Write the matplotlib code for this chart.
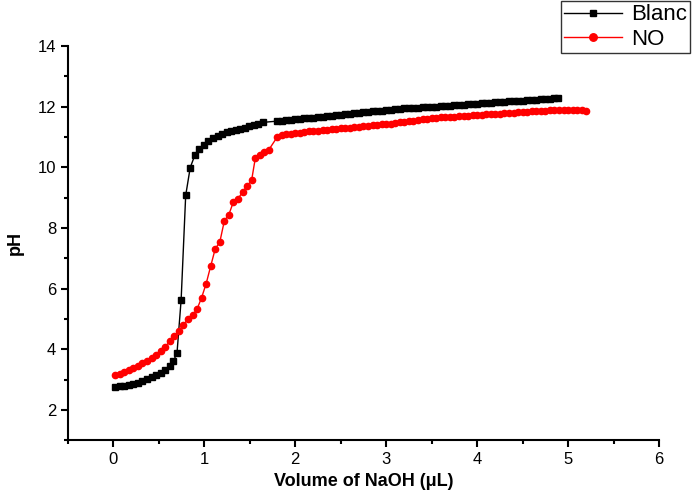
import matplotlib
matplotlib.use("Agg")
import matplotlib.pyplot as plt
from matplotlib.ticker import MultipleLocator

plt.rcParams['font.family'] = ['Liberation Sans', 'DejaVu Sans']

# Blanc (negro, cuadrados)
vol_blanc = [0.02, 0.07, 0.12, 0.17, 0.22, 0.27, 0.32, 0.37, 0.42, 0.47,
             0.52, 0.57, 0.62, 0.66, 0.70, 0.745, 0.795, 0.845, 0.895, 0.945,
             0.995, 1.045, 1.095, 1.145, 1.195, 1.245, 1.295, 1.345, 1.395, 1.445,
             1.495, 1.545, 1.595, 1.645,
             1.80, 1.85, 1.90, 1.95, 2.00, 2.05, 2.10, 2.15, 2.20, 2.25,
             2.30, 2.35, 2.40, 2.45, 2.50, 2.55, 2.60, 2.65, 2.70, 2.75,
             2.80, 2.85, 2.90, 2.95, 3.00, 3.05, 3.10, 3.15, 3.20, 3.25,
             3.30, 3.35, 3.40, 3.45, 3.50, 3.55, 3.60, 3.65, 3.70, 3.75,
             3.80, 3.85, 3.90, 3.95, 4.00, 4.05, 4.10, 4.15, 4.20, 4.25,
             4.30, 4.35, 4.40, 4.45, 4.50, 4.55, 4.60, 4.65, 4.70, 4.75,
             4.80, 4.85, 4.89]
ph_blanc = [2.76, 2.77, 2.79, 2.82, 2.86, 2.90, 2.95, 3.01, 3.07, 3.14,
            3.22, 3.32, 3.46, 3.60, 3.89, 5.63, 9.07, 9.99, 10.39, 10.60,
            10.74, 10.86, 10.96, 11.03, 11.09, 11.15, 11.20, 11.23, 11.26, 11.30,
            11.35, 11.40, 11.44, 11.48,
            11.52, 11.53, 11.55, 11.56, 11.58, 11.60, 11.61, 11.63, 11.64, 11.66,
            11.67, 11.69, 11.70, 11.72, 11.73, 11.75, 11.76, 11.78, 11.79, 11.81,
            11.82, 11.84, 11.85, 11.87, 11.88, 11.90, 11.91, 11.93, 11.94, 11.95,
            11.95, 11.96, 11.97, 11.98, 11.99, 12.00, 12.01, 12.02, 12.03, 12.04,
            12.05, 12.06, 12.07, 12.08, 12.10, 12.11, 12.12, 12.13, 12.14, 12.15,
            12.16, 12.17, 12.18, 12.19, 12.20, 12.21, 12.22, 12.23, 12.24, 12.25,
            12.26, 12.27, 12.27]

# NO (rojo, circulos)
vol_no = [0.02, 0.07, 0.12, 0.17, 0.22, 0.27, 0.32, 0.37, 0.42, 0.47,
          0.52, 0.57, 0.62, 0.67, 0.72, 0.77, 0.82, 0.87, 0.92, 0.97,
          1.02, 1.07, 1.12, 1.17, 1.22, 1.27, 1.32, 1.37, 1.42, 1.47,
          1.52, 1.56, 1.61, 1.66, 1.71,
          1.80, 1.85, 1.90, 1.95, 2.00, 2.05, 2.10, 2.15, 2.20, 2.25,
          2.30, 2.35, 2.40, 2.45, 2.50, 2.55, 2.60, 2.65, 2.70, 2.75,
          2.80, 2.85, 2.90, 2.95, 3.00, 3.05, 3.10, 3.15, 3.20, 3.25,
          3.30, 3.35, 3.40, 3.45, 3.50, 3.55, 3.60, 3.65, 3.70, 3.75,
          3.80, 3.85, 3.90, 3.95, 4.00, 4.05, 4.10, 4.15, 4.20, 4.25,
          4.30, 4.35, 4.40, 4.45, 4.50, 4.55, 4.60, 4.65, 4.70, 4.75,
          4.80, 4.85, 4.90, 4.95, 5.00, 5.05, 5.10, 5.15, 5.20]
ph_no = [3.15, 3.19, 3.24, 3.30, 3.37, 3.45, 3.53, 3.62, 3.71, 3.81,
         3.93, 4.08, 4.26, 4.42, 4.60, 4.80, 5.00, 5.12, 5.32, 5.70,
         6.16, 6.74, 7.31, 7.53, 8.23, 8.44, 8.86, 8.96, 9.18, 9.38,
         9.57, 10.29, 10.39, 10.49, 10.58,
         10.99, 11.05, 11.08, 11.10, 11.12, 11.14, 11.16, 11.18, 11.19, 11.21,
         11.22, 11.24, 11.25, 11.27, 11.28, 11.30, 11.31, 11.33, 11.34, 11.36,
         11.37, 11.38, 11.40, 11.41, 11.42, 11.44, 11.46, 11.48, 11.50, 11.52,
         11.54, 11.56, 11.58, 11.60, 11.62, 11.64, 11.65, 11.66, 11.66, 11.67,
         11.68, 11.69, 11.70, 11.71, 11.72, 11.73, 11.74, 11.75, 11.76, 11.77,
         11.78, 11.79, 11.80, 11.81, 11.82, 11.83, 11.84, 11.85, 11.86, 11.87,
         11.88, 11.89, 11.90, 11.90, 11.89, 11.90, 11.88, 11.88, 11.87]

fig = plt.figure(figsize=(6.93, 4.94), dpi=100)
ax = fig.add_axes([0.098, 0.109, 0.853, 0.798])

ax.plot(vol_blanc, ph_blanc, color='black', lw=1, marker='s', ms=4,
        mec='black', mfc='black', label='Blanc')
ax.plot(vol_no, ph_no, color='red', lw=1, marker='o', ms=4.5,
        mec='red', mfc='red', label='NO')

ax.set_xlim(-0.5, 6)
ax.set_ylim(1, 14)
ax.xaxis.set_major_locator(MultipleLocator(1))
ax.xaxis.set_minor_locator(MultipleLocator(0.5))
ax.yaxis.set_major_locator(MultipleLocator(2))
ax.yaxis.set_minor_locator(MultipleLocator(1))
ax.set_yticks([2, 4, 6, 8, 10, 12, 14])

for s in ['top', 'right']:
    ax.spines[s].set_visible(False)
for s in ['left', 'bottom']:
    ax.spines[s].set_linewidth(1.5)

ax.tick_params(which='major', direction='out', length=5, width=1.5, labelsize=12)
ax.tick_params(which='minor', direction='out', length=3, width=1.5)

ax.set_xlabel('Volume of NaOH (μL)', fontsize=13, fontweight='bold', labelpad=4)
ax.set_ylabel('pH', fontsize=13, fontweight='bold', labelpad=10)

leg = fig.legend(loc='upper right', bbox_to_anchor=(0.996, 0.998), fontsize=16,
                 frameon=True, fancybox=False, edgecolor='black',
                 handlelength=2.6, borderpad=0.15, labelspacing=0.15,
                 handletextpad=0.4, borderaxespad=0, markerscale=1.2)
leg.get_frame().set_linewidth(1)

fig.savefig('out.png', dpi=100)
